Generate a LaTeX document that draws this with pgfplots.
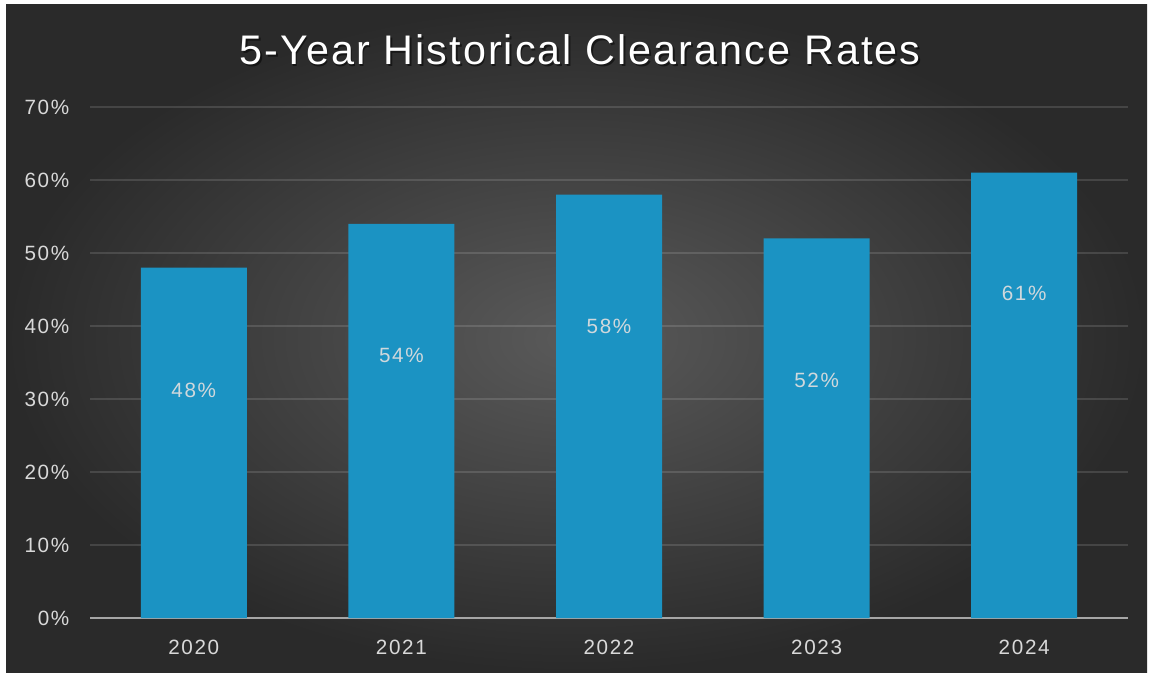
\documentclass[border=0pt]{standalone}
\usepackage{fontspec}
\setmainfont{Liberation Sans}
\newfontfamily\titlefont[LetterSpace=5]{Liberation Sans}
\newfontfamily\tickfont[LetterSpace=8]{Liberation Sans}
\usepackage{pgfplots}
\pgfplotsset{compat=1.18}
\definecolor{barblue}{HTML}{1B93C3}
\definecolor{bgcenter}{HTML}{5A5A5A}
\definecolor{bgedge}{HTML}{2A2A2A}
\definecolor{ticktext}{HTML}{D9D9D9}
\definecolor{lbltext}{HTML}{D0D8DC}
\definecolor{baseline}{HTML}{A6A6A6}

\begin{document}
\begin{tikzpicture}
% frame and background (1px = 0.75pt)
\begin{scope}[x=0.75pt,y=0.75pt]
\fill[white] (0,0) rectangle (1153,675);
\shade[inner color=bgcenter, outer color=bgedge] (6,3) rectangle (1147,670);
\node[text=black, opacity=0.5, font=\titlefont\fontsize{31}{36}\selectfont] at (581.5,623.5) {5-Year Historical Clearance Rates};
\node[text=white, font=\titlefont\fontsize{31}{36}\selectfont] at (580,625) {5-Year Historical Clearance Rates};
\end{scope}
\begin{axis}[
    at={(67.5pt,42.75pt)}, anchor=south west,
    scale only axis,
    width=778.5pt, height=383.25pt,
    xmin=-0.5, xmax=4.5,
    ymin=0, ymax=70,
    xtick={0,1,2,3,4},
    xticklabels={2020,2021,2022,2023,2024},
    ytick={0,10,...,70},
    yticklabel={\pgfmathprintnumber[assume math mode=true]{\tick}\%},
    axis x line*=bottom,
    axis y line*=left,
    y axis line style={draw=none},
    x axis line style={draw=baseline, line width=1.5pt, -},
    major tick length=0pt,
    ymajorgrids,
    major grid style={draw=white, opacity=0.13, line width=1.2pt},
    tick label style={text=ticktext, font=\tickfont\fontsize{15.5}{18}\selectfont},
    xticklabel style={yshift=-13pt},
    yticklabel style={xshift=-12pt},
    clip=false,
]
\addplot[ybar, bar width=79.5pt, fill=barblue, draw=none] coordinates {
    (0,48) (1,54) (2,58) (3,52) (4,61)};
% value labels inside the bars
\addplot[draw=none, mark=none, nodes near coords, point meta=explicit symbolic,
    every node near coord/.append style={anchor=center, text=lbltext, font=\tickfont\fontsize{15.5}{18}\selectfont}]
    coordinates {
    (0,31.2) [48\%] (1,36.0) [54\%] (2,40.0) [58\%] (3,32.6) [52\%] (4,44.5) [61\%]};
\end{axis}
\end{tikzpicture}
\end{document}
